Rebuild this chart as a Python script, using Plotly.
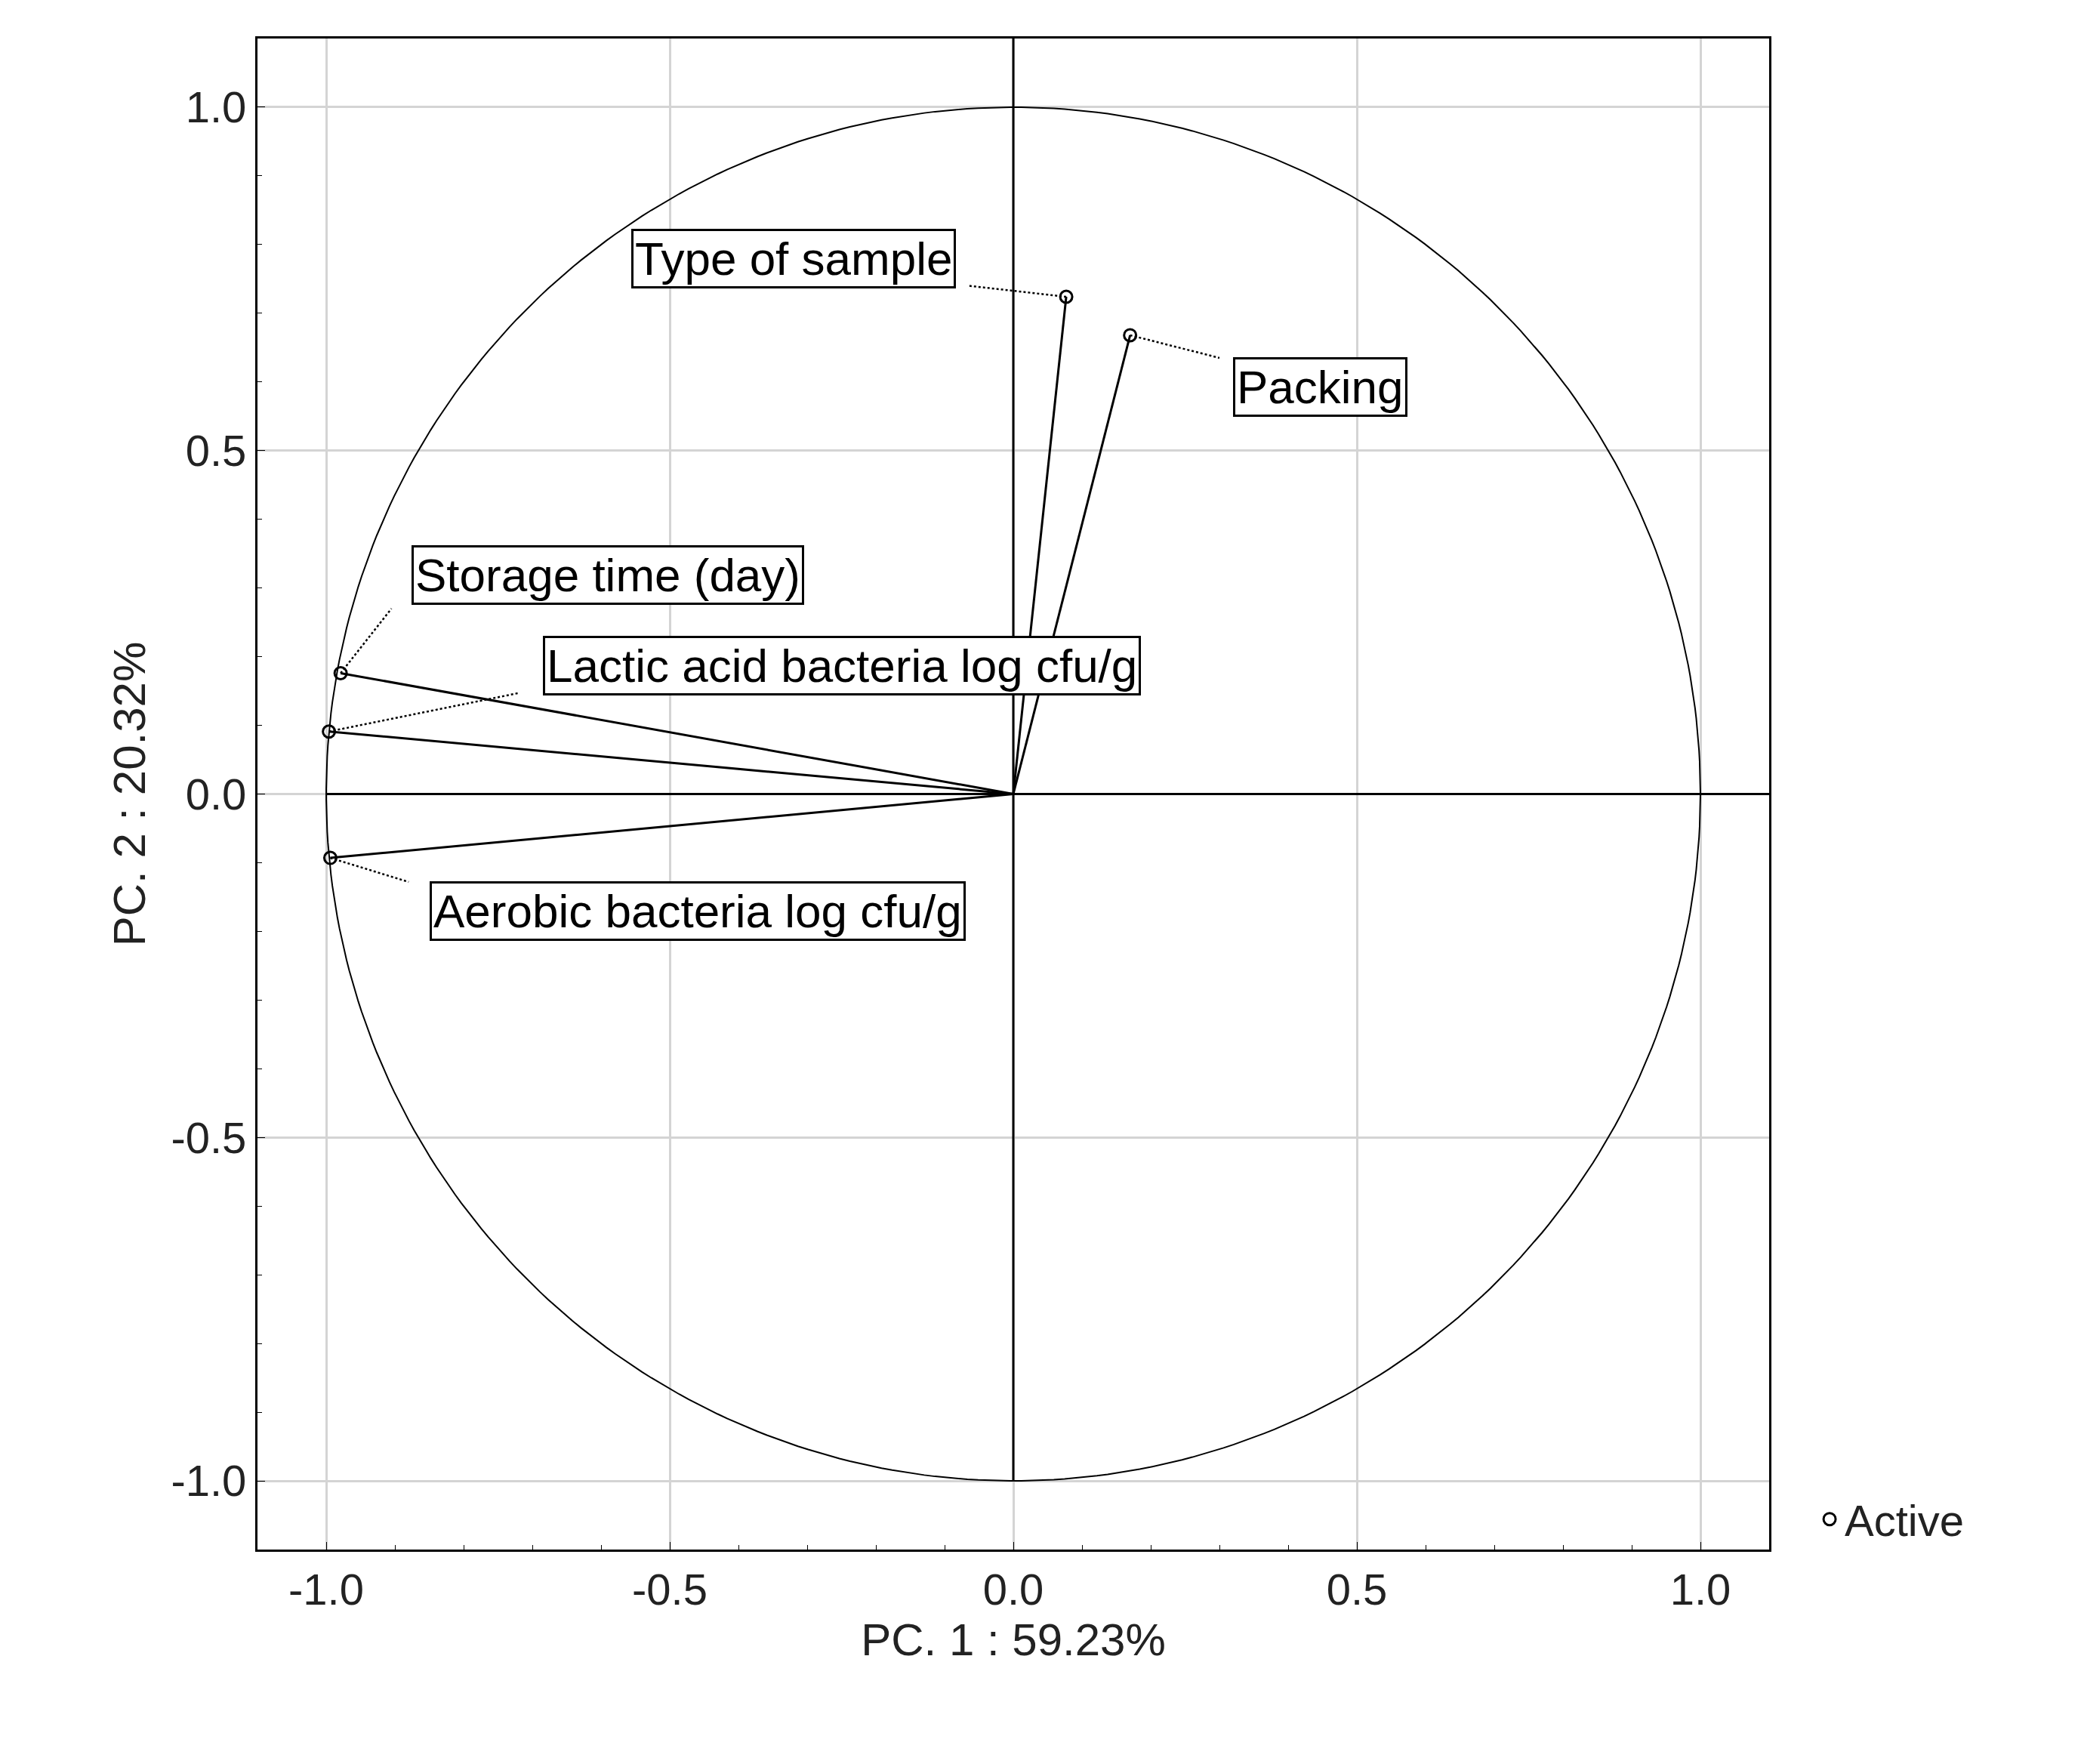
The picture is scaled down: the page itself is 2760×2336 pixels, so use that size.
import numpy as np
import plotly.graph_objects as go

names = ["Type of sample", "Packing", "Storage time (day)", "Lactic acid bacteria log cfu/g", "Aerobic bacteria log cfu/g"]
pc1 = [0.077, 0.170, -0.979, -0.996, -0.994]
pc2 = [0.724, 0.668, 0.176, 0.091, -0.093]
label_x = [-0.32, 0.447, -0.59, -0.25, -0.459]
label_y = [0.78, 0.593, 0.319, 0.187, -0.17]
leader_end_x = [-0.065, 0.30, -0.905, -0.72, -0.88]
leader_end_y = [0.74, 0.635, 0.27, 0.147, -0.128]

fig = go.Figure()
t = np.linspace(0, 2*np.pi, 400)
fig.add_trace(go.Scatter(x=np.cos(t), y=np.sin(t), mode="lines", line=dict(color="black", width=2), showlegend=False, hoverinfo="skip"))
for i in range(len(names)):
    fig.add_trace(go.Scatter(x=[0, pc1[i]], y=[0, pc2[i]], mode="lines", line=dict(color="black", width=3), showlegend=False))
    fig.add_trace(go.Scatter(x=[pc1[i], leader_end_x[i]], y=[pc2[i], leader_end_y[i]], mode="lines", line=dict(color="black", width=2.5, dash="dot"), showlegend=False))
    fig.add_annotation(x=label_x[i], y=label_y[i], text=names[i], showarrow=False,
                       font=dict(family="Liberation Sans", size=62, color="black"),
                       bordercolor="black", borderwidth=3, bgcolor="white", borderpad=2)
fig.add_trace(go.Scatter(x=pc1, y=pc2, mode="markers", name="Active",
                         marker=dict(symbol="circle-open", size=16, color="black", line=dict(width=3))))

fig.add_shape(type="line", x0=0, x1=0, y0=-1, y1=1.1, line=dict(color="black", width=3))
fig.add_shape(type="line", x0=-1, x1=1.1, y0=0, y1=0, line=dict(color="black", width=3))

ax = dict(range=[-1.1, 1.1], tickvals=[-1, -0.5, 0, 0.5, 1], ticktext=["-1.0", "-0.5", "0.0", "0.5", "1.0"],
          showgrid=True, gridcolor="#d4d4d4", gridwidth=3, zeroline=False, showline=True, linecolor="black",
          linewidth=3, mirror=True, ticks="inside", ticklen=10, tickcolor="black",
          minor=dict(dtick=0.1, ticks="inside", ticklen=6, tickcolor="black", showgrid=False),
          tickfont=dict(family="Liberation Sans", size=58, color="#222"))
fig.update_layout(
    width=2760, height=2336, plot_bgcolor="white", paper_bgcolor="white",
    margin=dict(l=333, r=425, t=43, b=292),
    xaxis=dict(ax, title=dict(text="PC. 1 : 59.23%", font=dict(family="Liberation Sans", size=60, color="#222"))),
    yaxis=dict(ax, title=dict(text="PC. 2 : 20.32%", font=dict(family="Liberation Sans", size=60, color="#222"))),
    legend=dict(x=1.03, y=0.02, xanchor="left", yanchor="middle", font=dict(family="Liberation Sans", size=58, color="#222"), bgcolor="rgba(0,0,0,0)"),
)
fig.write_html("out.html")
